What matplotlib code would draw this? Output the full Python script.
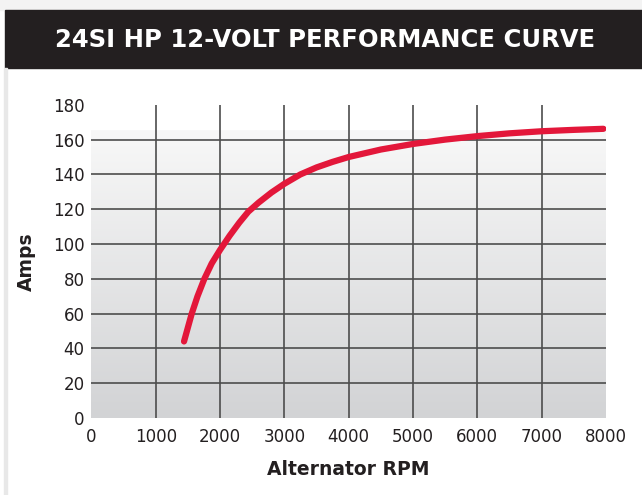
import numpy as np
import matplotlib.pyplot as plt
from matplotlib.patches import Rectangle
from matplotlib.colors import LinearSegmentedColormap

# curve
rpm = [1440, 1500, 1560, 1650, 1756, 1870, 2000, 2150, 2300, 2440, 2600, 2800,
       3000, 3250, 3500, 3750, 4000, 4500, 5000, 5500, 6000, 6500, 7000, 7500, 7960]
amps = [44, 52, 60, 70, 80, 88.8, 96.6, 104.8, 112.3, 118.6, 123.8, 129.6,
        134.6, 140, 144, 147.2, 150, 154.3, 157.5, 160, 162, 163.6, 164.8, 165.6, 166.2]

x_ticks = [0, 1000, 2000, 3000, 4000, 5000, 6000, 7000, 8000]
y_ticks = [0, 20, 40, 60, 80, 100, 120, 140, 160, 180]
x_grid = x_ticks[1:-1]
y_grid = y_ticks[1:-1]

title = '24SI HP 12-VOLT PERFORMANCE CURVE'
text_col = '#231f20'

fig = plt.figure(figsize=(6.42, 4.95), dpi=100)
W, H = 642, 495

# title bar and frame
fig.patches.append(Rectangle((0, 1 - 10 / H), 1, 10 / H, transform=fig.transFigure,
                             color='#f3f3f3', zorder=0))
fig.patches.append(Rectangle((5 / W, 1 - 68 / H), 1, 58 / H, transform=fig.transFigure,
                             color='#231f20', zorder=1))
fig.patches.append(Rectangle((4 / W, 0), 3 / W, 1 - 68 / H, transform=fig.transFigure,
                             color='#e8e8e8', zorder=1))
fig.text(325 / W, 1 - 40 / H, title, color='white', fontsize=17.5, fontweight='heavy',
         ha='center', va='center', family='DejaVu Sans')

ax = fig.add_axes([91.4 / W, (H - 418) / H, 514.6 / W, 313.2 / H])
ax.set_xlim(0, 8000)
ax.set_ylim(0, 180)
for s in ax.spines.values():
    s.set_visible(False)

# gradient background up to ~165 amps
grad = np.linspace(0, 1, 256).reshape(-1, 1)
cmap = LinearSegmentedColormap.from_list('bg', ['#d2d3d5', '#f8f8f8'])
ax.imshow(grad, extent=[0, 8000, 0, 165], origin='lower', aspect='auto',
          cmap=cmap, zorder=0)

ax.vlines(x_grid, 0, 180, color='#4d4d4d', lw=1.2, zorder=1)
ax.hlines(y_grid, 0, 8000, color='#4d4d4d', lw=1.2, zorder=1)

ax.plot(rpm, amps, color='#e3173a', lw=4.5, solid_capstyle='round',
        solid_joinstyle='round', zorder=3)

ax.set_xticks(x_ticks)
ax.set_yticks(y_ticks)
ax.tick_params(length=0, labelsize=12, labelcolor=text_col, pad=5)
ax.tick_params(axis='x', pad=7)

ax.set_xlabel('Alternator RPM', fontsize=13.5, fontweight='bold', color=text_col, labelpad=10)
ax.set_ylabel('Amps', fontsize=13.5, fontweight='bold', color=text_col, labelpad=12)

fig.savefig('out.png', dpi=100)
